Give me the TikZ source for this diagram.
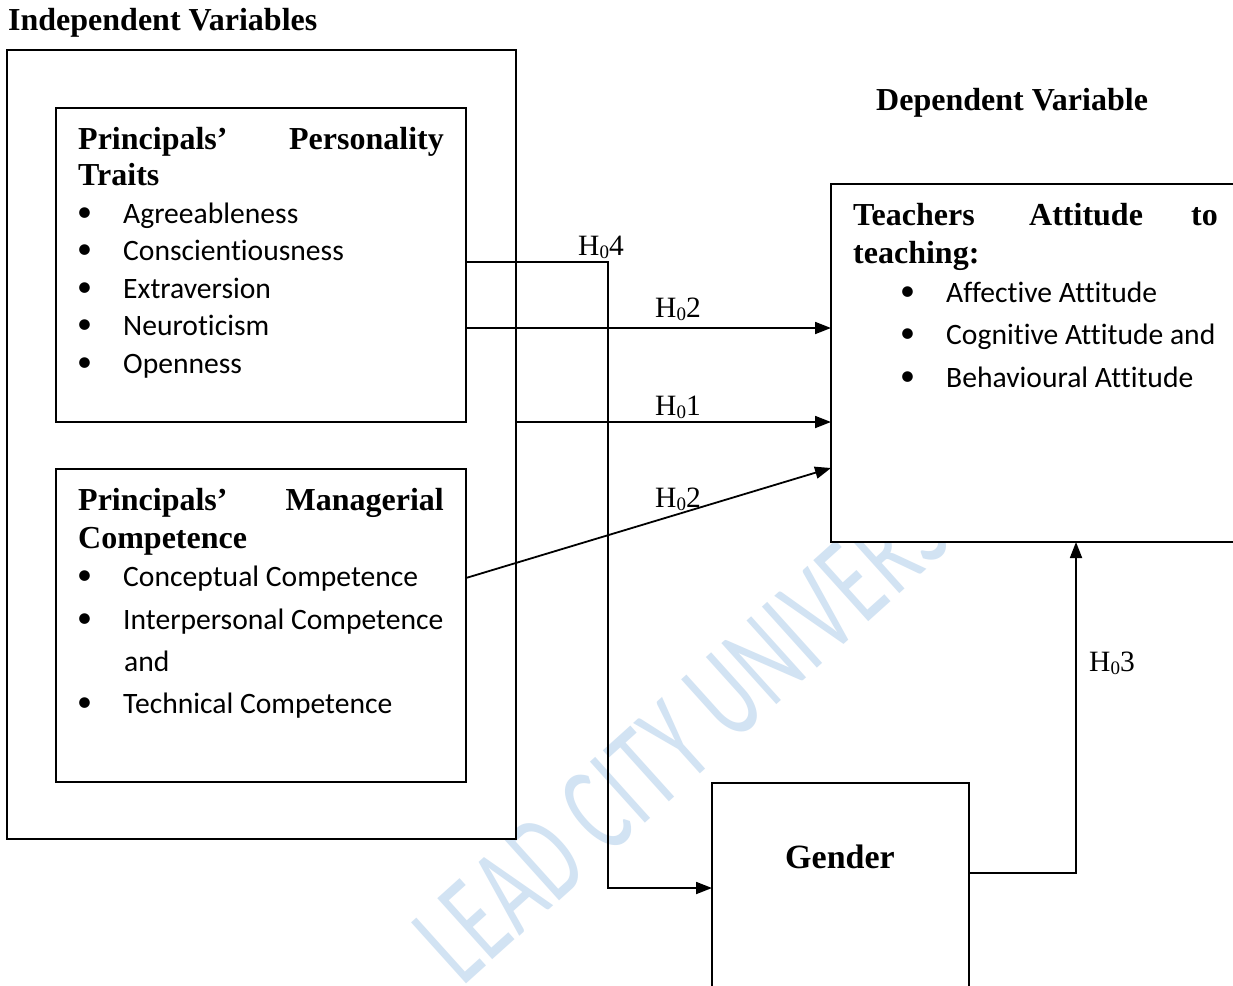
\documentclass[tikz,border=0pt]{standalone}
\usepackage{fontspec}
\setmainfont{Liberation Serif}
\newfontfamily\calfont[Ligatures=NoCommon]{Carlito}
\newfontfamily\wmfont[LetterSpace=3]{Carlito}
\usetikzlibrary{arrows.meta,calc}
\definecolor{wm}{RGB}{210,227,243}
\newcommand{\hnull}[1]{H\raisebox{-0.12em}{\fontsize{19}{20}\selectfont 0}#1}
\newcommand{\bitem}[1]{\makebox[46pt][l]{\raisebox{0.05em}{\fontsize{30}{30}\selectfont\textbullet}}#1}
\tikzset{
  box/.style={draw, line width=1.8pt, fill=white, inner sep=0pt, outer sep=0pt, anchor=north west},
  conn/.style={line width=1.8pt},
  arr/.style={conn, -{Triangle[length=16pt,width=12pt]}},
  ttl/.style={font=\fontsize{32}{37}\selectfont\bfseries, inner sep=0pt, anchor=base west},
  ttlr/.style={ttl, anchor=base east},
  itm/.style={font=\calfont\fontsize{29.6}{34}\selectfont, inner sep=0pt, anchor=base west},
  hlab/.style={font=\fontsize{29.5}{34}\selectfont, inner sep=0pt, anchor=base west},
}
\begin{document}
\begin{tikzpicture}[x=1pt,y=-1pt]
\useasboundingbox (0,0) rectangle (1233,985);
\clip (0,0) rectangle (1233,985);
\fill[white] (0,0) rectangle (1233,985);
% watermark
\node[font=\wmfont\fontsize{80}{80}\selectfont, text=wm, rotate=42, anchor=base west, inner sep=0pt] (wmk) at (462,988) {\scalebox{1}[1.6]{LEAD CITY UNIVERSITY}};
% boxes
\node[box, minimum width=509pt, minimum height=789pt] (outer) at (7,50) {};
\node[box, minimum width=410pt, minimum height=314pt] (box1) at (56,108) {};
\node[box, minimum width=410pt, minimum height=313pt] (box2) at (56,469) {};
\node[box, minimum width=420pt, minimum height=358pt] (teach) at (831,184) {};
\node[box, minimum width=257pt, minimum height=230pt] (gender) at (712,783) {};
% headings
\node[ttl] (indep) at (8,30) {Independent Variables};
\node[ttl] (dep) at (876,110) {Dependent Variable};
% box1 text
\node[ttl] (p1a) at (78,149) {Principals’};
\node[ttlr] (p1b) at (444,149) {Personality};
\node[ttl] (p1c) at (78,185) {Traits};
\node[itm] (b11) at (77,223) {\bitem{Agreeableness}};
\node[itm] (b12) at (77,260) {\bitem{Conscientiousness}};
\node[itm] (b13) at (77,298) {\bitem{Extraversion}};
\node[itm] (b14) at (77,335) {\bitem{Neuroticism}};
\node[itm] (b15) at (77,373) {\bitem{Openness}};
% box2 text
\node[ttl] (p2a) at (78,510) {Principals’};
\node[ttlr] (p2b) at (444,510) {Managerial};
\node[ttl] (p2c) at (78,548) {Competence};
\node[itm] (b21) at (77,586) {\bitem{Conceptual Competence}};
\node[itm] (b22) at (77,629) {\bitem{Interpersonal Competence}};
\node[itm] (b23) at (124,671) {and};
\node[itm] (b24) at (77,713) {\bitem{Technical Competence}};
% teachers text
\node[ttl] (t1a) at (853,225) {Teachers};
\node[ttl] (t1b) at (1029,225) {Attitude};
\node[ttlr] (t1c) at (1218,225) {to};
\node[ttl] (t1d) at (853,263) {teaching:};
\node[itm] (b31) at (900,302) {\bitem{Affective Attitude}};
\node[itm] (b32) at (900,344) {\bitem{Cognitive Attitude and}};
\node[itm] (b33) at (900,387) {\bitem{Behavioural Attitude}};
% gender
\node[font=\fontsize{34}{40}\selectfont\bfseries, inner sep=0pt, anchor=base] (gtxt) at (840,868) {Gender};
% connectors
\coordinate (h4turn) at (608,262);
\draw[arr] ([yshift=-154pt]box1.north east) -- (h4turn) |- ([yshift=-105pt]gender.north west);
\draw[arr] ([yshift=-220pt]box1.north east) -- ([yshift=-220pt]box1.north east -| teach.west);
\draw[arr] ([yshift=-372pt]outer.north east) -- ([yshift=-372pt]outer.north east -| teach.west);
\draw[arr] ([yshift=-109pt]box2.north east) -- ([yshift=-284pt]teach.north west);
\coordinate (h3turn) at (1076,873);
\draw[arr] ([yshift=-90pt]gender.north east) -- (h3turn) -- (h3turn |- teach.south);
% labels
\node[hlab] (l4) at (578,255) {\hnull{4}};
\node[hlab] (l2a) at (655,317) {\hnull{2}};
\node[hlab] (l1) at (655,415) {\hnull{1}};
\node[hlab] (l2b) at (655,507) {\hnull{2}};
\node[hlab] (l3) at (1089,671) {\hnull{3}};
\end{tikzpicture}
\end{document}
